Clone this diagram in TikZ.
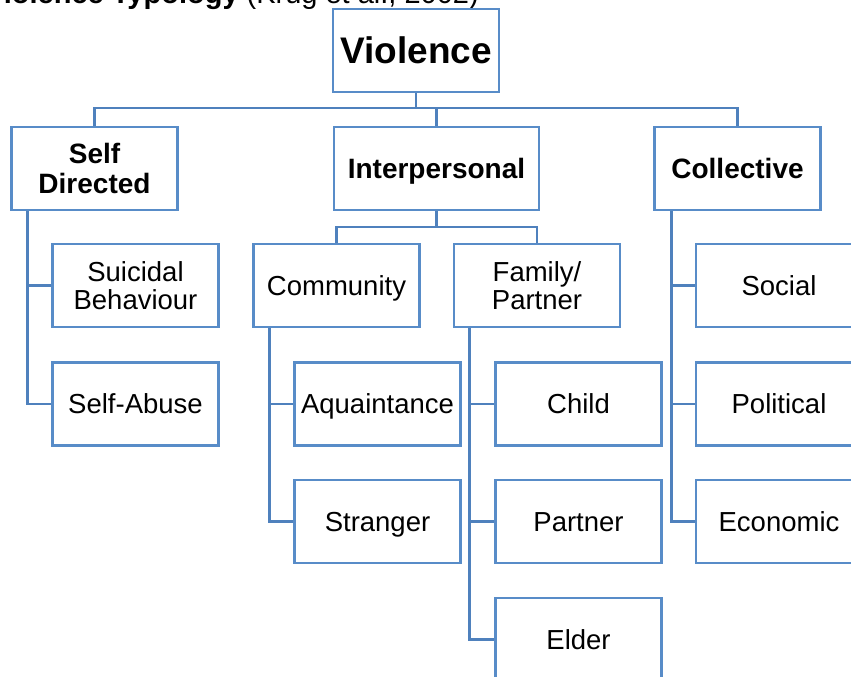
\documentclass[tikz,border=0pt]{standalone}
\usepackage{fontspec}
\setmainfont{Liberation Sans}
\usetikzlibrary{calc}
\definecolor{lineblue}{RGB}{79,129,189}
\definecolor{boxblue}{RGB}{88,140,200}
\newcommand\tstr{\rule{0pt}{0.905em}}
\newcommand\bstr{\rule[-0.212em]{0pt}{0.212em}}
\newcommand\bt[1]{\tstr#1\bstr}
\tikzset{
  box/.style={draw=boxblue, line width=2.7pt, fill=white, minimum width=166pt, minimum height=83pt, inner sep=0pt, align=center, font=\fontsize{27.5}{28}\selectfont},
  boldbox/.style={box, font=\fontsize{28}{30}\selectfont\bfseries},
  conn/.style={draw=lineblue, line width=2.7pt}
}
\begin{document}
\begin{tikzpicture}[x=1pt, y=-1pt]
\useasboundingbox (0,0) rectangle (851,677);
\clip (0,0) rectangle (851,677);
\node[anchor=base east, inner sep=0pt, font=\fontsize{29}{32}\selectfont] (title) at (479,4) {\textbf{Violence Typology} (Krug et al., 2002)};
\coordinate (bus) at (0,108);
\coordinate (bus2) at (0,227);
% nodes
\node[box, font=\fontsize{37}{40}\selectfont\bfseries] (V) at (416,50.5) {\bt{Violence}};
\node[boldbox] (SD) at (94.5,168.5) {\tstr Self\\Directed\bstr};
\node[boldbox, minimum width=205pt] (IP) at (436.5,168.5) {\bt{Interpersonal}};
\node[boldbox] (CO) at (737.5,168.5) {\bt{Collective}};
\node[box] (SB) at (135.5,285.5) {\tstr Suicidal\\Behaviour\bstr};
\node[box] (SA) at (135.5,404) {\bt{Self-Abuse}};
\node[box] (CM) at (336.5,285.5) {\bt{Community}};
\node[box] (FP) at (537,285.5) {\tstr Family/\\Partner\bstr};
\node[box] (AQ) at (377.5,404) {\bt{Aquaintance}};
\node[box] (ST) at (377.5,521.5) {\bt{Stranger}};
\node[box] (CH) at (578.5,404) {\bt{Child}};
\node[box] (PA) at (578.5,521.5) {\bt{Partner}};
\node[box] (EL) at (578.5,639.5) {\bt{Elder}};
\node[box] (SO) at (779,285.5) {\bt{Social}};
\node[box] (PO) at (779,404) {\bt{Political}};
\node[box] (EC) at (779,521.5) {\bt{Economic}};
% connectors
\draw[conn] (V.south) -- (V.south |- bus);
\draw[conn] (SD.north) |- (CO.north |- bus) -- (CO.north);
\draw[conn] (IP.north) -- (IP.north |- bus);
\draw[conn] (IP.south) -- (IP.south |- bus2);
\draw[conn] (CM.north) |- (FP.north |- bus2) -- (FP.north);
\draw[conn] ([xshift=17pt]SD.south west) |- (SA.west);
\draw[conn] ([xshift=17pt]SD.south west) |- (SB.west);
\draw[conn] ([xshift=17pt]CM.south west) |- (ST.west);
\draw[conn] ([xshift=17pt]CM.south west) |- (AQ.west);
\draw[conn] ([xshift=17pt]FP.south west) |- (EL.west);
\draw[conn] ([xshift=17pt]FP.south west) |- (CH.west);
\draw[conn] ([xshift=17pt]FP.south west) |- (PA.west);
\draw[conn] ([xshift=18pt]CO.south west) |- (EC.west);
\draw[conn] ([xshift=18pt]CO.south west) |- (SO.west);
\draw[conn] ([xshift=18pt]CO.south west) |- (PO.west);
\end{tikzpicture}
\end{document}
